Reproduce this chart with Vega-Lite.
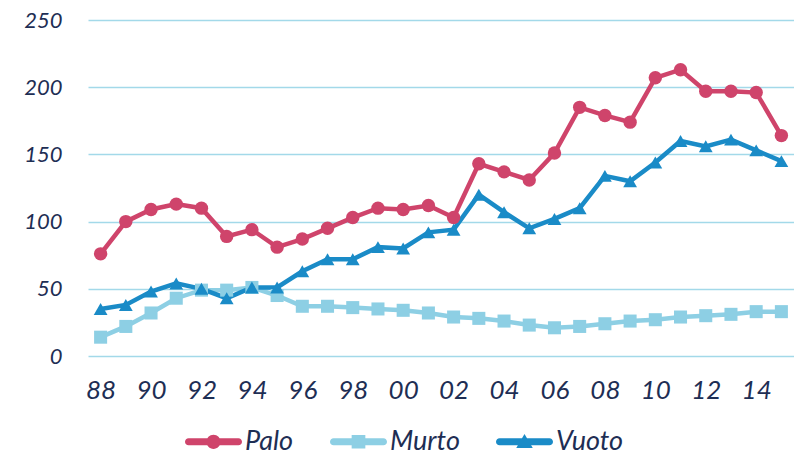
{
  "$schema": "https://vega.github.io/schema/vega-lite/v6.json",
  "autosize": {"type": "none"},
  "padding": {"left": 88, "top": 20, "right": 0, "bottom": 102},
  "width": 706,
  "height": 336,
  "background": "white",
  "config": {
    "view": {"stroke": null},
    "font": "Lato",
    "axis": {"labelFont": "Lato", "labelFontStyle": "italic", "labelColor": "#1E2E54", "domain": false, "ticks": false, "title": null},
    "legend": {"labelFont": "Lato", "labelFontStyle": "italic", "labelColor": "#1E2E54"}
  },
  "data": {"values": [
    {"year":1988,"series":"Palo","value":76},{"year":1989,"series":"Palo","value":100},{"year":1990,"series":"Palo","value":109},{"year":1991,"series":"Palo","value":113},{"year":1992,"series":"Palo","value":110},{"year":1993,"series":"Palo","value":89},{"year":1994,"series":"Palo","value":94},{"year":1995,"series":"Palo","value":81},{"year":1996,"series":"Palo","value":87},{"year":1997,"series":"Palo","value":95},{"year":1998,"series":"Palo","value":103},{"year":1999,"series":"Palo","value":110},{"year":2000,"series":"Palo","value":109},{"year":2001,"series":"Palo","value":112},{"year":2002,"series":"Palo","value":103},{"year":2003,"series":"Palo","value":143},{"year":2004,"series":"Palo","value":137},{"year":2005,"series":"Palo","value":131},{"year":2006,"series":"Palo","value":151},{"year":2007,"series":"Palo","value":185},{"year":2008,"series":"Palo","value":179},{"year":2009,"series":"Palo","value":174},{"year":2010,"series":"Palo","value":207},{"year":2011,"series":"Palo","value":213},{"year":2012,"series":"Palo","value":197},{"year":2013,"series":"Palo","value":197},{"year":2014,"series":"Palo","value":196},{"year":2015,"series":"Palo","value":164},
    {"year":1988,"series":"Murto","value":14},{"year":1989,"series":"Murto","value":22},{"year":1990,"series":"Murto","value":32},{"year":1991,"series":"Murto","value":43},{"year":1992,"series":"Murto","value":49},{"year":1993,"series":"Murto","value":49},{"year":1994,"series":"Murto","value":51},{"year":1995,"series":"Murto","value":45},{"year":1996,"series":"Murto","value":37},{"year":1997,"series":"Murto","value":37},{"year":1998,"series":"Murto","value":36},{"year":1999,"series":"Murto","value":35},{"year":2000,"series":"Murto","value":34},{"year":2001,"series":"Murto","value":32},{"year":2002,"series":"Murto","value":29},{"year":2003,"series":"Murto","value":28},{"year":2004,"series":"Murto","value":26},{"year":2005,"series":"Murto","value":23},{"year":2006,"series":"Murto","value":21},{"year":2007,"series":"Murto","value":22},{"year":2008,"series":"Murto","value":24},{"year":2009,"series":"Murto","value":26},{"year":2010,"series":"Murto","value":27},{"year":2011,"series":"Murto","value":29},{"year":2012,"series":"Murto","value":30},{"year":2013,"series":"Murto","value":31},{"year":2014,"series":"Murto","value":33},{"year":2015,"series":"Murto","value":33},
    {"year":1988,"series":"Vuoto","value":35},{"year":1989,"series":"Vuoto","value":38},{"year":1990,"series":"Vuoto","value":48},{"year":1991,"series":"Vuoto","value":54},{"year":1992,"series":"Vuoto","value":50},{"year":1993,"series":"Vuoto","value":43},{"year":1994,"series":"Vuoto","value":51},{"year":1995,"series":"Vuoto","value":51},{"year":1996,"series":"Vuoto","value":63},{"year":1997,"series":"Vuoto","value":72},{"year":1998,"series":"Vuoto","value":72},{"year":1999,"series":"Vuoto","value":81},{"year":2000,"series":"Vuoto","value":80},{"year":2001,"series":"Vuoto","value":92},{"year":2002,"series":"Vuoto","value":94},{"year":2003,"series":"Vuoto","value":120},{"year":2004,"series":"Vuoto","value":107},{"year":2005,"series":"Vuoto","value":95},{"year":2006,"series":"Vuoto","value":102},{"year":2007,"series":"Vuoto","value":110},{"year":2008,"series":"Vuoto","value":134},{"year":2009,"series":"Vuoto","value":130},{"year":2010,"series":"Vuoto","value":144},{"year":2011,"series":"Vuoto","value":160},{"year":2012,"series":"Vuoto","value":156},{"year":2013,"series":"Vuoto","value":161},{"year":2014,"series":"Vuoto","value":153},{"year":2015,"series":"Vuoto","value":145}
  ]},
  "encoding": {
    "x": {"field": "year", "type": "quantitative",
      "scale": {"domain": [1987.5, 2015.5], "nice": false, "zero": false},
      "axis": {"values": [1988,1990,1992,1994,1996,1998,2000,2002,2004,2006,2008,2010,2012,2014], "labelExpr": "slice('0' + (datum.value % 100), -2)", "grid": false, "labelFontSize": 26, "labelPadding": 21}},
    "y": {"field": "value", "type": "quantitative",
      "scale": {"domain": [0, 250], "nice": false},
      "axis": {"values": [0,50,100,150,200,250], "grid": true, "gridColor": "#A3D9E9", "gridWidth": 1.5, "labelFontSize": 22, "labelPadding": 26}},
    "color": {"field": "series", "type": "nominal",
      "scale": {"domain": ["Palo","Murto","Vuoto"], "range": ["#CF446B","#8DCFE4","#1A8BC7"]},
      "legend": {"orient": "none", "direction": "horizontal", "legendX": 97, "legendY": 393, "title": null,
        "labelFontSize": 27, "labelOffset": 3, "columnPadding": 36, "symbolSize": 3249, "symbolStrokeWidth": 0, "symbolOpacity": 1,
        "encode": {"symbols": {"update": {
          "shape": {"signal": "(datum.value === 'Palo' ? 'M-0.25,0A0.25,0.25 0 1,1 0.25,0A0.25,0.25 0 1,1 -0.25,0Z' : datum.value === 'Murto' ? 'M-0.24,-0.24L0.24,-0.24L0.24,0.24L-0.24,0.24Z' : 'M0,-0.27L0.29,0.22L-0.29,0.22Z') + ' M-0.875,-0.125L0.875,-0.125A0.125,0.125 0 0,1 0.875,0.125L-0.875,0.125A0.125,0.125 0 0,1 -0.875,-0.125Z'"},
          "size": {"value": 3249},
          "fill": {"signal": "datum.value === 'Palo' ? '#CF446B' : datum.value === 'Murto' ? '#8DCFE4' : '#1A8BC7'"},
          "strokeWidth": {"value": 0},
          "opacity": {"value": 1}
        }}}}
    }
  },
  "layer": [
    {"mark": {"type": "line", "strokeWidth": 4.5},
     "encoding": {"order": {"field": "year"}}},
    {"transform": [{"filter": "datum.series === 'Palo'"}],
     "mark": {"type": "point", "filled": true, "opacity": 1, "size": 180, "shape": "circle"}},
    {"transform": [{"filter": "datum.series === 'Murto'"}],
     "mark": {"type": "point", "filled": true, "opacity": 1, "size": 170, "shape": "square"}},
    {"transform": [{"filter": "datum.series === 'Vuoto'"}],
     "mark": {"type": "point", "filled": true, "opacity": 1, "size": 190, "shape": "triangle-up"}}
  ]
}
